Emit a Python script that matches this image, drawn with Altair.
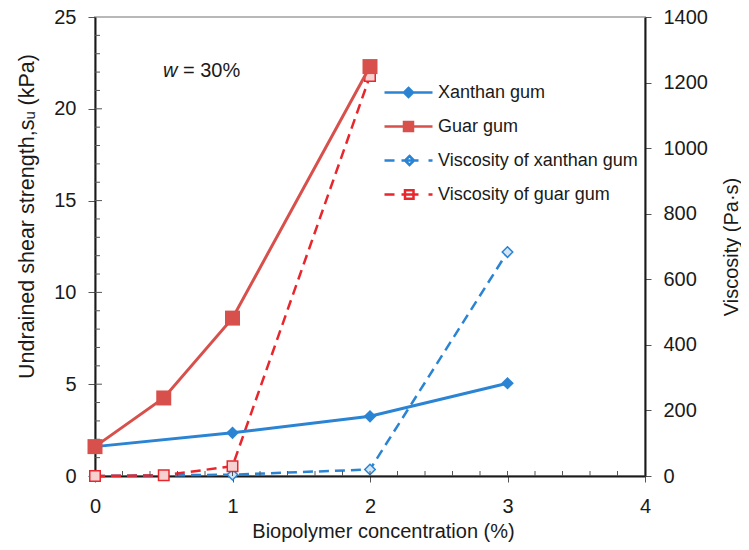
import altair as alt
import pandas as pd

# ---------------- data ----------------
xanthan_conc = [0, 1, 2, 3]
xanthan_su = [1.6, 2.35, 3.25, 5.05]
guar_conc = [0, 0.5, 1, 2]
guar_su = [1.6, 4.25, 8.6, 22.3]
xanthan_visc_conc = [0, 1, 2, 3]
xanthan_visc = [0, 4, 20, 683]
guar_visc_conc = [0, 0.5, 1, 2]
guar_visc = [0, 2, 30, 1220]

legend_names = ["Xanthan gum", "Guar gum", "Viscosity of xanthan gum", "Viscosity of guar gum"]
x_major = [0, 1, 2, 3, 4]
x_inner = [round(0.2 * i, 1) for i in range(1, 20)]
left_major = [0, 5, 10, 15, 20, 25]
left_major_inner = [5, 10, 15, 20]
left_minor = [v for v in range(1, 25) if v % 5 != 0]
right_major = [0, 200, 400, 600, 800, 1000, 1200, 1400]
annot_w = ["w"]
annot_rest = ["= 30%"]

# ---------------- styles ----------------
BLUE = "#2a84d3"
RED = "#d8504b"
RED_D = "#e8262c"
LBLUE = "#d3e5f6"
LRED = "#f7d0d0"
FONT = "Liberation Sans"
W, H = 550, 459

df_x = pd.DataFrame({"conc": xanthan_conc, "su": xanthan_su})
df_g = pd.DataFrame({"conc": guar_conc, "su": guar_su})
df_xv = pd.DataFrame({"conc": xanthan_visc_conc, "visc": xanthan_visc})
df_gv = pd.DataFrame({"conc": guar_visc_conc, "visc": guar_visc})

xs = alt.Scale(domain=[0, 4], nice=False, zero=False)
x_axis = alt.Axis(values=x_major, title="Biopolymer concentration (%)", grid=False,
                  tickSize=6, labelPadding=14, labelFlush=False, titleX=288, titleY=55,
                  titleBaseline="middle", titleAlign="center", format="d")
X = alt.X("conc:Q", scale=xs, axis=x_axis)

ys_l = alt.Scale(domain=[0, 25], nice=False, zero=False)
y_axis_l = alt.Axis(values=left_major, orient="left", grid=False, tickSize=7, labelPadding=12,
                    title="Undrained shear strength,s\u1d64  (kPa)", titleAngle=270,
                    titleFontSize=21.5, titleX=-68, titleY=199, titleBaseline="middle",
                    titleAlign="center")
YL = alt.Y("su:Q", scale=ys_l, axis=y_axis_l)

ys_r = alt.Scale(domain=[0, 1400], nice=False, zero=False)
y_axis_r = alt.Axis(values=right_major, orient="right", grid=False, tickSize=6, labelPadding=12,
                    format="d", title="Viscosity (Pa\u00b7s)", titleAngle=270, titleX=86,
                    titleY=229.5, titleBaseline="middle", titleAlign="center")
YR = alt.Y("visc:Q", scale=ys_r, axis=y_axis_r)

# ---------------- viscosity (right axis) ----------------
xv_line = alt.Chart(df_xv).mark_line(color=BLUE, strokeWidth=2.5, strokeDash=[10, 6]).encode(x=X, y=YR)
gv_line = alt.Chart(df_gv).mark_line(color=RED_D, strokeWidth=2.5, strokeDash=[10, 6]).encode(x=X, y=YR)
xv_pts = alt.Chart(df_xv).mark_point(shape="diamond", filled=True, fill=LBLUE, stroke=BLUE,
                                     strokeWidth=1.5, size=110, opacity=1).encode(x=X, y=YR)
gv_pts = alt.Chart(df_gv).mark_point(shape="square", filled=True, fill=LRED, stroke=RED_D,
                                     strokeWidth=1.5, size=110, opacity=1).encode(x=X, y=YR)
right = alt.layer(xv_line, gv_line, xv_pts, gv_pts)

# ---------------- strength (left axis) ----------------
x_line = alt.Chart(df_x).mark_line(color=BLUE, strokeWidth=3).encode(x=X, y=YL)
g_line = alt.Chart(df_g).mark_line(color=RED, strokeWidth=3).encode(x=X, y=YL)
x_pts = alt.Chart(df_x).mark_point(shape="diamond", filled=True, color=BLUE, size=160, opacity=1).encode(x=X, y=YL)
g_pts = alt.Chart(df_g).mark_point(shape="square", filled=True, color=RED, size=225, opacity=1).encode(x=X, y=YL)

TICKC = "#555555"
xin = alt.Chart(pd.DataFrame({"conc": x_inner})).mark_rule(color=TICKC, strokeWidth=1).encode(
    x=X, y=alt.value(H - 5), y2=alt.value(H))
lmin = alt.Chart(pd.DataFrame({"su": left_minor})).mark_rule(color=TICKC, strokeWidth=1).encode(
    y=YL, x=alt.value(0), x2=alt.value(5))
lmaj = alt.Chart(pd.DataFrame({"su": left_major_inner})).mark_rule(color=TICKC, strokeWidth=1).encode(
    y=YL, x=alt.value(0), x2=alt.value(7))
left = alt.layer(xin, lmin, lmaj, x_line, g_line, x_pts, g_pts)

# ---------------- legend ----------------
paths = [
    "M-1,0H3.8M1.4,-0.45L1.85,0L1.4,0.45L0.95,0Z",
    "M-1,0H3.8M0.95,-0.45H1.85V0.45H0.95Z",
    "M-1,0H0M0.7,0H2.4M3.4,0H3.8M1.5,-0.45L1.95,0L1.5,0.45L1.05,0Z",
    "M-1,0H0M0.7,0H2.4M3.4,0H3.8M1.05,-0.42H1.9V0.42H1.05Z",
]
leg = alt.Legend(orient="none", legendX=288, legendY=64, title=None, labelFontSize=18,
                 labelFont=FONT, labelColor="#1a1a1a", symbolSize=400, symbolStrokeWidth=2.5,
                 labelOffset=32, rowPadding=13, padding=0, symbolOpacity=1, labelLimit=400)
legend_layer = alt.Chart(pd.DataFrame({"series": legend_names})).transform_filter("false").mark_point(
    size=400, strokeWidth=2.5, opacity=1, filled=False).encode(
    shape=alt.Shape("series:N", scale=alt.Scale(domain=legend_names, range=paths), legend=leg),
    fill=alt.Fill("series:N", scale=alt.Scale(domain=legend_names, range=[BLUE, RED, "white", "white"]), legend=leg),
    stroke=alt.Stroke("series:N", scale=alt.Scale(domain=legend_names, range=[BLUE, RED, BLUE, RED_D]), legend=leg),
)

# ---------------- annotation ----------------
t1 = alt.Chart(pd.DataFrame({"t": annot_w})).mark_text(
    align="left", baseline="middle", fontSize=20, font=FONT, fontStyle="italic", color="#1a1a1a").encode(
    text="t:N", x=alt.value(68), y=alt.value(54))
t2 = alt.Chart(pd.DataFrame({"t": annot_rest})).mark_text(
    align="left", baseline="middle", fontSize=20, font=FONT, color="#1a1a1a").encode(
    text="t:N", x=alt.value(88), y=alt.value(54))

chart = alt.layer(right, left, legend_layer, t1, t2).resolve_scale(y="independent").properties(
    width=W, height=H,
    autosize=alt.AutoSizeParams(type="none"),
    padding={"left": 87, "top": 9, "right": 96, "bottom": 66},
).configure_axis(
    labelFont=FONT, titleFont=FONT, labelFontSize=20, titleFontSize=20,
    labelColor="#1a1a1a", titleColor="#1a1a1a", titleFontWeight="normal",
    domainColor="#1a1a1a", domainWidth=2, tickColor=TICKC, tickWidth=1,
).configure_view(stroke="#b8b8b8", strokeWidth=2)

chart.save("out.html", embed_options={"renderer": "svg", "actions": False})
